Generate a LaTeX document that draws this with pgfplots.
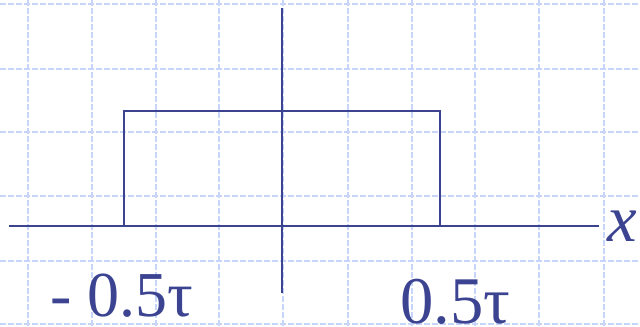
\documentclass[border=0pt]{standalone}
\usepackage{pgfplots}
\pgfplotsset{compat=1.18}
\usepackage{fontspec}
\setmainfont{Liberation Serif}
\definecolor{ink}{RGB}{60,68,146}
\definecolor{gridblue}{RGB}{200,213,250}
\begin{document}
\begin{tikzpicture}
\begin{axis}[
  scale only axis, width=480pt, height=244.5pt,
  xmin=0, xmax=640, ymin=0, ymax=326,
  axis line style={draw=none},
  tick style={draw=none},
  xticklabels=\empty, yticklabels=\empty,
  tick label style={inner sep=0pt, outer sep=0pt},
  xtick={28,92,156,219,283,348,412,475,539,604},
  ytick={2,65,130,194,257,322},
  grid=major,
  grid style={gridblue, line width=0.8pt, dash pattern=on 4.5pt off 1.5pt},
  clip=false,
]
\coordinate (ll) at (axis cs:0,0);
\coordinate (ur) at (axis cs:640,326);
% x axis and vertical axis
\addplot[ink, line width=1.5pt] coordinates {(9,100) (599,100)};
\addplot[ink, line width=1.5pt] coordinates {(282,33) (282,318)};
% rectangular pulse
\addplot[ink, line width=1.5pt] coordinates {(124,100) (124,215) (439.5,215) (439.5,100)};
\node[anchor=base west, inner sep=0pt, text=ink, font=\rmfamily\fontsize{48}{50}\selectfont] at (axis cs:50,10) {- 0.5τ};
\node[anchor=base west, inner sep=0pt, text=ink, font=\rmfamily\fontsize{50}{52}\selectfont] at (axis cs:400,3) {0.5τ};
\node[anchor=base west, inner sep=0pt, text=ink, font=\rmfamily\fontsize{50}{52}\selectfont\itshape] at (axis cs:607,85) {x};
\end{axis}
\pgfresetboundingbox
\path (ll) rectangle (ur);
\end{tikzpicture}
\end{document}
